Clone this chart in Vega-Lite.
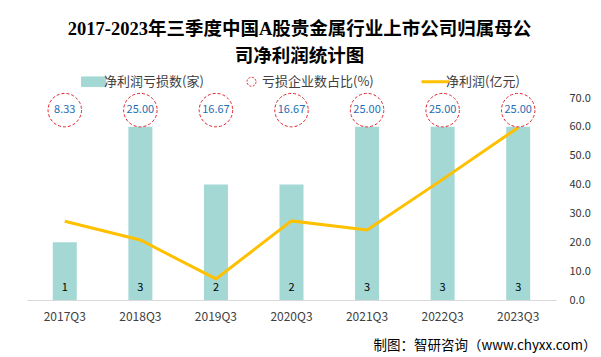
{
  "$schema": "https://vega.github.io/schema/vega-lite/v6.json",
  "width": 529,
  "height": 202,
  "autosize": {"type": "none"},
  "padding": {"left": 27, "top": 98, "right": 45, "bottom": 57},
  "background": "white",
  "config": {
    "view": {"stroke": null},
    "font": "Noto Sans CJK SC"
  },
  "title": {
    "text": ["2017-2023年三季度中国A股贵金属行业上市公司归属母公", "司净利润统计图"],
    "font": "Liberation Serif, Noto Sans CJK SC",
    "fontSize": 18.5,
    "fontWeight": "bold",
    "color": "#000000",
    "lineHeight": 27,
    "anchor": "middle",
    "frame": "group",
    "dx": 8,
    "offset": 10
  },
  "data": {
    "values": [
      {"period": "2017Q3", "count": 1, "ratio": 8.33, "profit": 27.3},
      {"period": "2018Q3", "count": 3, "ratio": 25.0, "profit": 20.8},
      {"period": "2019Q3", "count": 2, "ratio": 16.67, "profit": 7.3},
      {"period": "2020Q3", "count": 2, "ratio": 16.67, "profit": 27.4},
      {"period": "2021Q3", "count": 3, "ratio": 25.0, "profit": 24.3},
      {"period": "2022Q3", "count": 3, "ratio": 25.0, "profit": 41.8},
      {"period": "2023Q3", "count": 3, "ratio": 25.0, "profit": 59.8}
    ]
  },
  "encoding": {
    "x": {
      "field": "period",
      "type": "nominal",
      "sort": null,
      "scale": {"paddingInner": 0, "paddingOuter": 0},
      "axis": {
        "title": "制图：智研咨询（www.chyxx.com）",
        "titleFont": "Noto Sans CJK SC",
        "titleFontSize": 13.5,
        "titleFontWeight": "normal",
        "titleColor": "#000000",
        "titleAnchor": "end",
        "titleAlign": "right",
        "titleBaseline": "alphabetic",
        "titleX": 569,
        "titleY": 49,
        "labelAngle": 0,
        "labelFontSize": 12,
        "labelColor": "#404040",
        "labelPadding": 11,
        "ticks": false,
        "domainColor": "#D9D9D9",
        "domainWidth": 1
      }
    }
  },
  "layer": [
    {
      "mark": {"type": "bar", "size": 24},
      "encoding": {
        "y": {"field": "count", "type": "quantitative", "scale": {"domain": [0, 3.5]}, "axis": null},
        "color": {
          "datum": "净利润亏损数(家)",
          "scale": {
            "domain": ["净利润亏损数(家)", "亏损企业数占比(%)", "净利润(亿元)"],
            "range": ["#A3D8D5", "#E0212B", "#FFC000"]
          },
          "legend": {
            "title": null,
            "orient": "none",
            "direction": "horizontal",
            "legendX": 60,
            "legendY": -23,
            "padding": 0,
            "columnPadding": 41,
            "labelFontSize": 13,
            "labelColor": "#404040",
            "labelOffset": 4,
            "symbolSize": 784,
            "encode": {
              "symbols": {
                "enter": {
                  "fillOpacity": {"signal": "datum.value === '亏损企业数占比(%)' ? 0 : 1"}
                },
                "update": {
                  "shape": {"signal": "datum.value === '净利润(亿元)' ? 'stroke' : datum.value === '亏损企业数占比(%)' ? 'circle' : 'M-1,-0.4H1V0.4H-1Z'"},
                  "size": {"signal": "datum.value === '亏损企业数占比(%)' ? 81 : datum.value === '净利润(亿元)' ? 784 : 576"},
                  "fill": {"signal": "datum.value === '净利润亏损数(家)' ? '#A3D8D5' : datum.value === '亏损企业数占比(%)' ? '#FFFFFF' : 'transparent'"},
                  "fillOpacity": {"signal": "datum.value === '亏损企业数占比(%)' ? 0 : 1"},
                  "stroke": {"signal": "datum.value === '净利润(亿元)' ? '#FFC000' : datum.value === '亏损企业数占比(%)' ? '#E0212B' : 'transparent'"},
                  "strokeWidth": {"signal": "datum.value === '净利润(亿元)' ? 3 : 1"},
                  "strokeDash": {"signal": "datum.value === '亏损企业数占比(%)' ? [2, 1.5] : []"},
                  "opacity": {"value": 1}
                }
              }
            }
          }
        }
      }
    },
    {
      "mark": {"type": "text", "baseline": "alphabetic", "dy": -9, "fontSize": 11, "color": "#000000"},
      "encoding": {
        "y": {"datum": 0, "type": "quantitative", "scale": {"domain": [0, 3.5]}, "axis": null},
        "text": {"field": "count", "type": "quantitative"}
      }
    },
    {
      "mark": {"type": "line", "strokeWidth": 3},
      "encoding": {
        "y": {
          "field": "profit",
          "type": "quantitative",
          "scale": {"domain": [0, 70]},
          "axis": {
            "orient": "right",
            "title": null,
            "values": [0, 10, 20, 30, 40, 50, 60, 70],
            "format": ".1f",
            "labelFontSize": 11,
            "labelColor": "#333333",
            "labelPadding": 13,
            "ticks": false,
            "domain": false,
            "grid": false
          }
        },
        "color": {"datum": "净利润(亿元)"}
      }
    },
    {
      "mark": {"type": "point", "shape": "circle", "size": 1120, "filled": false, "fill": "#FFFFFF", "fillOpacity": 1, "opacity": 1, "strokeWidth": 1, "strokeDash": [3, 2]},
      "encoding": {
        "y": {"datum": 65.8, "type": "quantitative", "scale": {"domain": [0, 70]}, "axis": null},
        "color": {"datum": "亏损企业数占比(%)"}
      }
    },
    {
      "mark": {"type": "text", "baseline": "middle", "fontSize": 11, "color": "#1F6EB4"},
      "encoding": {
        "y": {"datum": 65.8, "type": "quantitative", "scale": {"domain": [0, 70]}, "axis": null},
        "text": {"field": "ratio", "type": "quantitative", "format": ".2f"}
      }
    }
  ],
  "resolve": {"scale": {"y": "independent"}}
}
